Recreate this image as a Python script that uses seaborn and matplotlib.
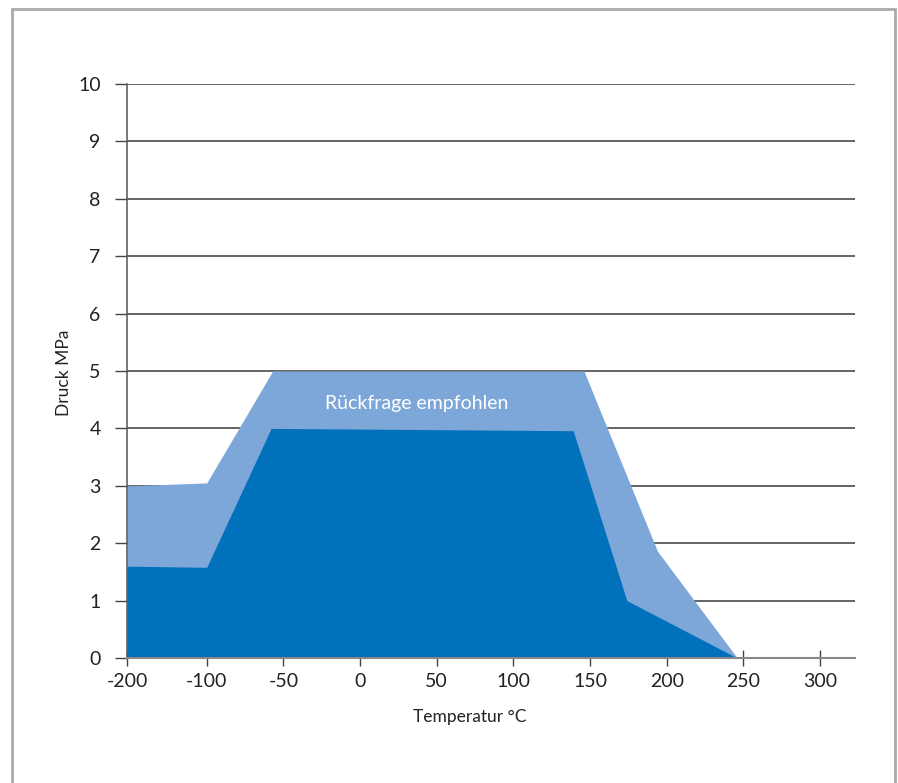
import numpy as np
import pandas as pd
import matplotlib.pyplot as plt
from matplotlib.patches import Rectangle
import seaborn as sns

# Daten
temp_limit = [-200, -100, -57, 146, 194, 246]
druck_limit = [3.0, 3.05, 5.0, 5.0, 1.86, 0.0]

temp_ok = [-200, -100, -58, 139, 174, 246]
druck_ok = [1.6, 1.58, 4.0, 3.96, 1.0, 0.0]

x_ticks = [-200, -100, -50, 0, 50, 100, 150, 200, 250, 300]
y_ticks = list(range(0, 11))

LIGHT = "#7DA7D8"
DARK = "#0071BA"

sns.set_style("white")
plt.rcParams["font.family"] = ["Lato", "DejaVu Sans"]

# x-Achse unterhalb von -100 gestaucht
K = 0.52


def fwd(x):
    x = np.asarray(x, dtype=float)
    return np.where(x < -100, -100 + (x + 100) * K, x)


def inv(x):
    x = np.asarray(x, dtype=float)
    return np.where(x < -100, -100 + (x + 100) / K, x)


fig = plt.figure(figsize=(8.98, 7.83), dpi=100)
ax = fig.add_axes([127 / 898, 1 - 658 / 783, (855 - 127) / 898, (658 - 84) / 783])
ax.set_xscale("function", functions=(fwd, inv))

ax.fill_between(temp_limit, druck_limit, 0, color=LIGHT, lw=0, zorder=3)
ax.fill_between(temp_ok, druck_ok, 0, color=DARK, lw=0, zorder=4)

ax.set_xlim(-200, 322.8)
ax.set_ylim(0, 10)
ax.set_xticks(x_ticks)
ax.set_xticklabels([str(t) for t in x_ticks])
ax.set_yticks(y_ticks)
ax.set_yticklabels([str(t) for t in y_ticks])

ax.yaxis.grid(True, color="#3a3a3a", lw=1.1, zorder=1)
ax.xaxis.grid(False)
ax.set_axisbelow(True)

for s in ["top", "right"]:
    ax.spines[s].set_visible(False)
ax.spines["left"].set_color("#555555")
ax.spines["left"].set_linewidth(1.1)
ax.spines["bottom"].set_color("#888888")
ax.spines["bottom"].set_linewidth(1.5)
ax.spines["left"].set_zorder(5)
ax.spines["bottom"].set_zorder(5)

ax.tick_params(axis="y", left=True, direction="out", length=9, width=1, color="#444444",
               labelsize=14, pad=10, labelcolor="#222222")
ax.tick_params(axis="x", bottom=True, direction="inout", length=12, width=1, color="#444444",
               labelsize=14, pad=5, labelcolor="#222222")

ax.set_xlabel("Temperatur °C", fontsize=12.5, color="#222222")
ax.set_ylabel("Druck MPa", fontsize=12.5, color="#222222")
ax.xaxis.set_label_coords((470 - 127) / (855 - 127), -(709 - 658) / (658 - 84))
ax.yaxis.set_label_coords((72 - 127) / (855 - 127), (658 - 373) / (658 - 84))

ax.text(37, 4.44, "Rückfrage empfohlen", color="white", fontsize=14,
        ha="center", va="center", zorder=6)

fig.patches.append(Rectangle((12 / 898, -0.02), (895 - 12) / 898, (783 - 9) / 783 + 0.02,
                             transform=fig.transFigure, fill=False,
                             edgecolor="#aaaaaa", lw=2))

fig.savefig("out.png", dpi=100)
